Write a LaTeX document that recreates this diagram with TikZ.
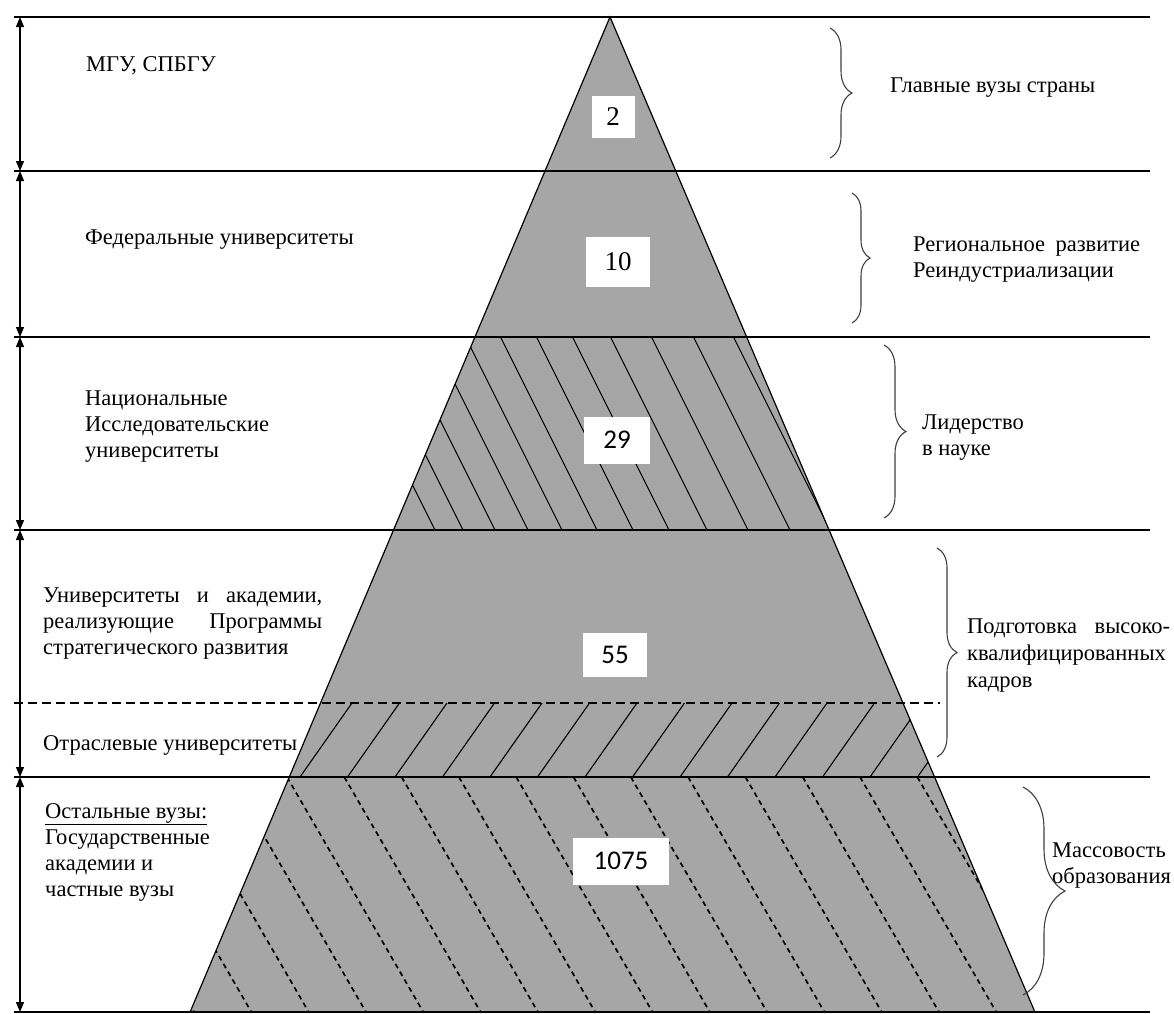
\documentclass[tikz,border=0pt]{standalone}
\usepackage{fontspec}
\setmainfont{Liberation Serif}
\newfontfamily\numsans{Carlito}
\usetikzlibrary{arrows.meta,decorations.pathreplacing}
\definecolor{pyr}{RGB}{166,166,166}
\begin{document}
\begin{tikzpicture}[x=1pt,y=-1pt,
  hline/.style={line width=1.4pt},
  edgeline/.style={line width=1.2pt},
  hatch/.style={line width=1.1pt},
  dhatch/.style={line width=1.7pt, dash pattern=on 5pt off 4pt},
  lbl/.style={anchor=base west, inner sep=0pt, font=\fontsize{22.5}{26}\selectfont, align=left},
  numbox/.style={fill=white, inner sep=0pt, font=\fontsize{27}{30}\selectfont},
  brc/.style={decorate, decoration={brace, amplitude=#1}, line width=1.1pt, draw=black!75},
  dimarrow/.style={line width=1.2pt, {Triangle[length=10pt,width=8pt]}-{Triangle[length=10pt,width=8pt]}},
]
\useasboundingbox (0,0) rectangle (1174,1013);
\fill[white] (0,0) rectangle (1174,1013);

% pyramid
\coordinate (apex) at (610,17);
\coordinate (bl) at (190.1,1012);
\coordinate (br) at (1034.9,1012);
\filldraw[fill=pyr, draw=black, edgeline] (apex) -- (bl) -- (br) -- cycle;

% hatching: national research universities
\begin{scope}
\clip (475,337) -- (746.6,337) -- (829.1,530) -- (393.5,530) -- cycle;
\foreach \b in {435,463,495,528,562,597,633,669,707,748,790,830}
  \draw[hatch] (\b-96.5,337) -- (\b,530);
\end{scope}

% hatching: branch universities
\begin{scope}
\clip (320.5,703) -- (902.9,703) -- (934.5,777) -- (289.3,777) -- cycle;
\foreach \k in {0,...,14}
  \draw[hatch] ({300+47.5*\k},777) -- ({352+47.5*\k},703);
\end{scope}

% hatching: other universities (dashed)
\begin{scope}
\clip (289.3,777) -- (934.5,777) -- (1034.9,1012) -- (190.1,1012) -- cycle;
\foreach \k in {-5,...,12}
  \draw[dhatch] ({287+57.3*\k},777) -- ({423.3+57.3*\k},1012);
\end{scope}

% horizontal lines
\foreach \yy in {17,171,337,530,777,1012}
  \draw[hline] (14,\yy) -- (1150,\yy);
\draw[line width=1.2pt, dash pattern=on 9pt off 5pt] (14,703) -- (940,703);

% left dimension arrows
\coordinate (a0) at (20,17);
\coordinate (a1) at (20,171);
\coordinate (a2) at (20,337);
\coordinate (a3) at (20,530);
\coordinate (a4) at (20,777);
\coordinate (a5) at (20,1012);
\draw[dimarrow] (a0) -- (a1);
\draw[dimarrow] (a1) -- (a2);
\draw[dimarrow] (a2) -- (a3);
\draw[dimarrow] (a3) -- (a4);
\draw[dimarrow] (a4) -- (a5);

% number boxes
\node[numbox, minimum width=43pt, minimum height=42pt] (n2) at (613,117) {2};
\node[numbox, minimum width=64pt, minimum height=50pt] (n10) at (618,262) {10};
\node[numbox, minimum width=66pt, minimum height=47pt, font=\fontsize{27}{30}\numsans] (n29) at (617,440) {29};
\node[numbox, minimum width=64pt, minimum height=44pt, font=\fontsize{27}{30}\numsans] (n55) at (615,655) {55};
\node[numbox, minimum width=96pt, minimum height=47pt, font=\fontsize{27}{30}\numsans] (n1075) at (621,861) {1075};

% left labels (anchor = baseline of the last line)
\node[lbl] (mgu) at (86,71) {МГУ, СПБГУ};
\node[lbl] (fed) at (85,244) {Федеральные университеты};
\node[lbl] (nat) at (85,457) {Национальные\\Исследовательские\\университеты};
\node[lbl] (univ) at (43,654) {\makebox[279pt][s]{Университеты и академии,}\\\makebox[279pt][s]{реализующие Программы}\\стратегического развития};
\node[lbl] (otr) at (43,750) {Отраслевые университеты};
\node[lbl] (ost) at (45,896) {\underline{Остальные вузы:}\\Государственные\\академии и\\частные вузы};

% right labels
\node[lbl] (glav) at (890,92) {Главные вузы страны};
\node[lbl] (reg) at (913,277) {\makebox[227pt][s]{Региональное развитие}\\Реиндустриализации};
\node[lbl] (lid) at (922,455) {Лидерство\\в науке};
\node[lbl, font=\fontsize{22.5}{27}\selectfont] (podg) at (967,687) {\makebox[203pt][s]{Подготовка высоко-}\\квалифицированных\\кадров};
\node[lbl] (mass) at (1052,883) {Массовость\\образования};

% braces
\coordinate (b1t) at (830,28);   \coordinate (b1b) at (830,158);
\coordinate (b2t) at (852,193);  \coordinate (b2b) at (852,323);
\coordinate (b3t) at (884,345);  \coordinate (b3b) at (884,518);
\coordinate (b4t) at (937,548);  \coordinate (b4b) at (937,757);
\coordinate (b5t) at (1023,787); \coordinate (b5b) at (1023,995);
\draw[brc=22] (b1t) -- (b1b);
\draw[brc=18] (b2t) -- (b2b);
\draw[brc=22] (b3t) -- (b3b);
\draw[brc=20] (b4t) -- (b4b);
\draw[brc=42] (b5t) -- (b5b);
\end{tikzpicture}
\end{document}
